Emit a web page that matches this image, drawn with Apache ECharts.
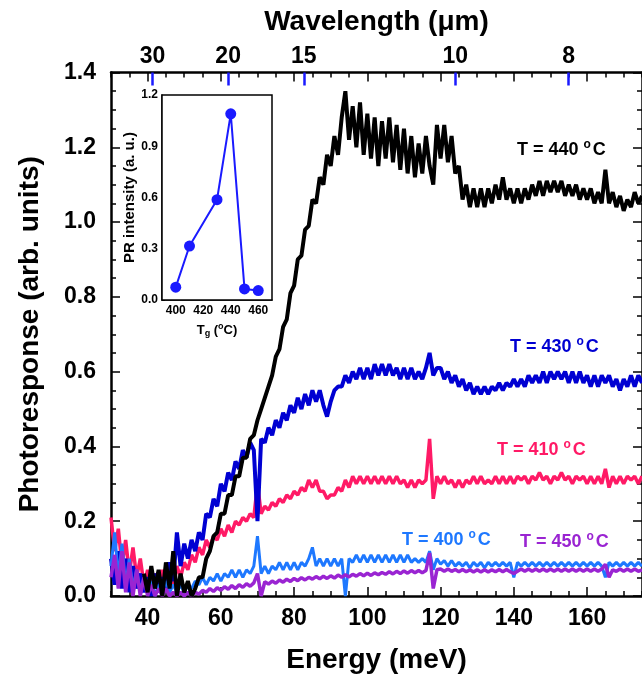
<!DOCTYPE html>
<html>
<head>
<meta charset="utf-8">
<script src="https://cdn.jsdelivr.net/npm/echarts@6/dist/echarts.min.js"></script>
<style>
html,body{margin:0;padding:0;background:#fff;}
#chart{width:642px;height:679px;}
</style>
</head>
<body>
<div id="chart"></div>
<script>
// ---------------- DATA ----------------
const energy = [
 30,31,32,33,34,35,36,37,38,39,
 40,41,42,43,44,45,46,47,48,49,
 50,51,52,53,54,55,56,57,58,59,
 60,61,62,63,64,65,66,67,68,69,
 70,71,72,73,74,75,76,77,78,79,
 80,81,82,83,84,85,86,87,88,89,
 90,91,92,93,94,95,96,97,98,99,
 100,101,102,103,104,105,106,107,108,109,
 110,111,112,113,114,115,116,117,118,119,
 120,121,122,123,124,125,126,127,128,129,
 130,131,132,133,134,135,136,137,138,139,
 140,141,142,143,144,145,146,147,148,149,
 150,151,152,153,154,155,156,157,158,159,
 160,161,162,163,164,165,166,167,168,169,
 170,171,172,173,174,175
];
// T = 440 C (black)
const pr440 = [
 null,null,null,null,null,null,null,null,null,0.06,
 0.01,0.08,0.02,0.07,0.0,0.09,0.02,0.12,0.0,0.06,
 0.01,0.04,0.0,0.02,0.05,0.05,0.1,0.12,0.16,0.17,
 0.22,0.22,0.27,0.27,0.32,0.32,0.37,0.37,0.42,0.43,
 0.47,0.5,0.53,0.56,0.59,0.64,0.66,0.72,0.74,0.81,
 0.83,0.9,0.91,0.98,0.99,1.06,1.05,1.12,1.1,1.18,
 1.15,1.23,1.18,1.28,1.35,1.22,1.31,1.2,1.32,1.18,
 1.29,1.17,1.28,1.15,1.27,1.17,1.28,1.16,1.26,1.14,
 1.25,1.13,1.23,1.12,1.21,1.13,1.23,1.15,1.1,1.26,
 1.17,1.26,1.16,1.23,1.13,1.15,1.06,1.1,1.04,1.09,
 1.04,1.09,1.04,1.09,1.05,1.1,1.06,1.12,1.06,1.09,
 1.05,1.09,1.05,1.09,1.06,1.1,1.07,1.11,1.07,1.11,
 1.08,1.11,1.08,1.11,1.07,1.1,1.07,1.1,1.06,1.09,
 1.06,1.09,1.05,1.08,1.05,1.14,1.05,1.08,1.04,1.07,
 1.03,1.06,1.04,1.08,1.05,1.07
];
// T = 430 C (blue)
const pr430 = [
 0.1,0.03,0.12,0.02,0.1,0.01,0.08,0.02,0.06,0.01,
 0.05,0.0,0.06,0.01,0.05,0.02,0.09,0.04,0.17,0.08,
 0.14,0.1,0.15,0.12,0.17,0.15,0.22,0.21,0.26,0.24,
 0.3,0.28,0.33,0.31,0.36,0.34,0.39,0.37,0.41,0.39,
 0.2,0.42,0.41,0.45,0.43,0.47,0.45,0.49,0.47,0.51,
 0.49,0.53,0.5,0.54,0.51,0.55,0.52,0.55,0.51,0.48,
 0.52,0.55,0.56,0.56,0.59,0.57,0.6,0.58,0.61,0.58,
 0.61,0.58,0.62,0.59,0.62,0.59,0.62,0.59,0.61,0.58,
 0.61,0.58,0.61,0.58,0.6,0.58,0.61,0.65,0.59,0.61,
 0.61,0.58,0.6,0.57,0.59,0.56,0.58,0.55,0.57,0.54,
 0.56,0.54,0.56,0.54,0.56,0.55,0.57,0.55,0.57,0.56,
 0.58,0.56,0.58,0.56,0.59,0.57,0.59,0.57,0.6,0.57,
 0.6,0.58,0.6,0.58,0.6,0.57,0.6,0.57,0.6,0.57,
 0.59,0.56,0.59,0.56,0.59,0.57,0.59,0.56,0.58,0.55,
 0.58,0.56,0.59,0.56,0.59,0.57
];
// T = 410 C (pink)
const pr410 = [
 0.21,0.12,0.18,0.08,0.15,0.06,0.13,0.05,0.1,0.03,
 0.07,0.02,0.06,0.03,0.07,0.02,0.06,0.03,0.08,0.05,
 0.09,0.07,0.11,0.09,0.13,0.11,0.15,0.13,0.16,0.15,
 0.18,0.16,0.19,0.17,0.2,0.19,0.21,0.2,0.22,0.21,
 0.3,0.22,0.24,0.23,0.25,0.24,0.26,0.25,0.27,0.26,
 0.28,0.27,0.29,0.28,0.31,0.29,0.31,0.28,0.28,0.26,
 0.27,0.27,0.29,0.28,0.31,0.29,0.32,0.3,0.32,0.3,
 0.32,0.3,0.32,0.3,0.32,0.3,0.32,0.3,0.32,0.3,
 0.31,0.29,0.31,0.29,0.31,0.3,0.31,0.42,0.26,0.32,
 0.3,0.32,0.3,0.31,0.29,0.31,0.29,0.31,0.3,0.32,
 0.3,0.32,0.3,0.31,0.3,0.32,0.3,0.32,0.3,0.32,
 0.3,0.32,0.31,0.32,0.3,0.32,0.31,0.33,0.31,0.32,
 0.3,0.32,0.31,0.33,0.31,0.32,0.3,0.32,0.31,0.32,
 0.3,0.32,0.3,0.32,0.3,0.34,0.29,0.32,0.3,0.32,
 0.3,0.32,0.31,0.32,0.3,0.32
];
// T = 400 C (light blue)
const pr400 = [
 0.08,0.17,0.05,0.14,0.03,0.1,0.02,0.07,0.01,0.05,
 0.01,0.04,0.0,0.03,0.01,0.04,0.01,0.03,0.01,0.03,
 0.01,0.03,0.02,0.04,0.03,0.05,0.03,0.05,0.04,0.06,
 0.04,0.06,0.05,0.07,0.05,0.07,0.05,0.07,0.06,0.08,
 0.16,0.06,0.08,0.06,0.08,0.07,0.09,0.07,0.09,0.07,
 0.09,0.07,0.09,0.08,0.1,0.13,0.08,0.1,0.08,0.1,
 0.08,0.1,0.08,0.1,0.0,0.1,0.09,0.11,0.09,0.11,
 0.09,0.11,0.09,0.11,0.09,0.11,0.09,0.11,0.09,0.11,
 0.09,0.11,0.09,0.1,0.09,0.1,0.09,0.12,0.07,0.1,
 0.085,0.095,0.08,0.095,0.08,0.09,0.08,0.09,0.075,0.09,
 0.08,0.09,0.075,0.09,0.08,0.09,0.08,0.09,0.08,0.09,
 0.05,0.09,0.08,0.09,0.08,0.09,0.08,0.09,0.08,0.09,
 0.08,0.09,0.08,0.09,0.08,0.09,0.08,0.09,0.08,0.09,
 0.08,0.09,0.08,0.09,0.08,0.05,0.09,0.08,0.09,0.08,
 0.09,0.08,0.09,0.08,0.09,0.08
];
// T = 450 C (purple)
const pr450 = [
 0.05,0.11,0.02,0.12,0.01,0.09,0.0,0.07,0.0,0.05,
 0.0,0.03,0.0,0.02,0.0,0.02,0.0,0.01,0.0,0.01,
 0.0,0.01,0.0,0.01,0.005,0.015,0.01,0.02,0.012,0.022,
 0.015,0.025,0.018,0.028,0.02,0.03,0.023,0.033,0.026,0.035,
 0.06,0.0,0.038,0.032,0.04,0.034,0.043,0.037,0.045,0.039,
 0.047,0.041,0.049,0.043,0.05,0.045,0.052,0.046,0.053,0.047,
 0.054,0.048,0.056,0.05,0.057,0.051,0.058,0.053,0.06,0.054,
 0.061,0.055,0.062,0.057,0.063,0.058,0.065,0.059,0.066,0.06,
 0.067,0.061,0.068,0.062,0.068,0.062,0.068,0.115,0.02,0.07,
 0.072,0.066,0.072,0.066,0.071,0.065,0.071,0.065,0.07,0.064,
 0.07,0.064,0.07,0.064,0.07,0.065,0.071,0.065,0.071,0.065,
 0.06,0.066,0.072,0.066,0.072,0.066,0.072,0.066,0.072,0.066,
 0.072,0.066,0.072,0.066,0.072,0.066,0.072,0.066,0.072,0.066,
 0.072,0.066,0.072,0.066,0.072,0.085,0.05,0.07,0.066,0.072,
 0.066,0.072,0.066,0.072,0.066,0.07
];
// Inset: PR intensity vs growth temperature
const insetTg = [400, 410, 430, 440, 450, 460];
const insetPR = [0.075, 0.316, 0.587, 1.09, 0.065, 0.055];

// Tick labels
const energyLabels = [40, 60, 80, 100, 120, 140, 160];
const wavelengthLabels = [30, 20, 15, 10, 8];           // micrometres
const insetTgLabels = [400, 420, 440, 460];
const insetTgTicks = [400, 410, 420, 430, 440, 450, 460];

// ---------------- CHART ----------------
const FONT = 'Liberation Sans, Arial, sans-serif';
const hc = 1239.84; // meV * um
const wavelengthEnergies = wavelengthLabels.map(w => hc / w);

function pairs(vals) {
  const out = [];
  for (let i = 0; i < energy.length; i++) if (vals[i] !== null) out.push([energy[i], vals[i]]);
  return out;
}

const C440 = '#000000', C430 = '#0000d2', C410 = '#ff1a66', C400 = '#1e78ff', C450 = '#9a24d2', CIN = '#1a1aff';

const chart = echarts.init(document.getElementById('chart'), null, {renderer: 'canvas'});

function lineSeries(name, vals, color, width, z) {
  return {
    name, type: 'line', xAxisIndex: 0, yAxisIndex: 0, data: pairs(vals),
    showSymbol: false, symbol: 'none', sampling: null, smooth: false,
    lineStyle: {color, width, join: 'bevel'}, itemStyle: {color}, z, silent: true
  };
}

function tLabel(txt, color, x, y) {
  return {
    type: 'text', x, y, z: 100,
    style: {
      text: txt + ' {s|o}C', verticalAlign: 'middle',
      fontSize: 18, fontWeight: 'bold', fontFamily: FONT, fill: color,
      rich: { s: { fontSize: 12, fontWeight: 'bold', fontFamily: FONT, fill: color, verticalAlign: 'top', padding: [0, 2, 10, 0] } }
    }
  };
}

const option = {
  animation: false,
  backgroundColor: '#fff',
  textStyle: {fontFamily: FONT},
  grid: [
    {left: 111, top: 72.5, width: 533, height: 523.5},
    {left: 162, top: 95, width: 110, height: 205, show: true, borderColor: '#000', borderWidth: 1.5, backgroundColor: '#fff', z: 5}
  ],
  xAxis: [
    { // bottom major + labels
      gridIndex: 0, type: 'value', position: 'bottom', min: 30, max: 175,
      axisLine: {show: true, onZero: false, lineStyle: {color: '#000', width: 2.5}},
      axisTick: {show: true, inside: true, length: 9, customValues: energyLabels, lineStyle: {color: '#000', width: 1.5}},
      axisLabel: {customValues: energyLabels, fontSize: 23, fontWeight: 'bold', color: '#000', margin: 11, fontFamily: FONT},
      splitLine: {show: false},
      name: 'Energy (meV)', nameLocation: 'middle', nameGap: 50,
      nameTextStyle: {fontSize: 28, fontWeight: 'bold', color: '#000', fontFamily: FONT}
    },
    { // bottom minor ticks
      gridIndex: 0, type: 'value', position: 'bottom', min: 30, max: 175, interval: 5,
      axisLine: {show: false, onZero: false},
      axisTick: {show: true, inside: true, length: 5, lineStyle: {color: '#000', width: 1.5}},
      axisLabel: {show: false}, splitLine: {show: false}
    },
    { // top major ticks + line
      gridIndex: 0, type: 'value', position: 'top', min: 30, max: 175,
      axisLine: {show: true, onZero: false, lineStyle: {color: '#000', width: 2.5}},
      axisTick: {show: true, inside: true, length: 9, customValues: energyLabels, lineStyle: {color: '#000', width: 1.5}},
      axisLabel: {show: false}, splitLine: {show: false}
    },
    { // top minor ticks
      gridIndex: 0, type: 'value', position: 'top', min: 30, max: 175, interval: 5,
      axisLine: {show: false, onZero: false},
      axisTick: {show: true, inside: true, length: 5, lineStyle: {color: '#000', width: 1.5}},
      axisLabel: {show: false}, splitLine: {show: false}
    },
    { // top wavelength axis
      gridIndex: 0, type: 'value', position: 'top', min: 30, max: 175,
      axisLine: {show: false, onZero: false},
      axisTick: {show: true, inside: true, length: 13, customValues: wavelengthEnergies, lineStyle: {color: CIN, width: 2.5}},
      axisLabel: {
        customValues: wavelengthEnergies, fontSize: 23, fontWeight: 'bold', color: '#000', margin: 4, fontFamily: FONT,
        formatter: function (v) {
          let best = 0;
          for (let i = 1; i < wavelengthEnergies.length; i++)
            if (Math.abs(wavelengthEnergies[i] - v) < Math.abs(wavelengthEnergies[best] - v)) best = i;
          return String(wavelengthLabels[best]);
        }
      },
      splitLine: {show: false},
      name: 'Wavelength (μm)', nameLocation: 'middle', nameGap: 36,
      nameTextStyle: {fontSize: 28, fontWeight: 'bold', color: '#000', fontFamily: FONT}
    },
    { // inset x
      gridIndex: 1, type: 'value', position: 'bottom', min: 390, max: 470,
      axisLine: {show: true, onZero: false, lineStyle: {color: '#000', width: 1.5}},
      axisTick: {show: true, inside: true, length: 3, customValues: insetTgTicks, lineStyle: {color: '#000'}},
      axisLabel: {customValues: insetTgLabels, fontSize: 12, fontWeight: 'bold', color: '#000', margin: 5, fontFamily: FONT},
      splitLine: {show: false}
    }
  ],
  yAxis: [
    {
      gridIndex: 0, type: 'value', position: 'left', min: 0, max: 1.4, interval: 0.2,
      axisLine: {show: true, onZero: false, lineStyle: {color: '#000', width: 2.5}},
      axisTick: {show: true, inside: true, length: 9, lineStyle: {color: '#000', width: 1.5}},
      minorTick: {show: true, splitNumber: 4, length: 5, lineStyle: {color: '#000', width: 1.5}},
      axisLabel: {fontSize: 23, fontWeight: 'bold', color: '#000', margin: 15, fontFamily: FONT, formatter: v => v.toFixed(1)},
      splitLine: {show: false},
      name: 'Photoresponse (arb. units)', nameLocation: 'middle', nameGap: 67,
      nameTextStyle: {fontSize: 28, fontWeight: 'bold', color: '#000', fontFamily: FONT}
    },
    {
      gridIndex: 0, type: 'value', position: 'right', min: 0, max: 1.4, interval: 0.2,
      axisLine: {show: true, onZero: false, lineStyle: {color: '#000', width: 2.5}},
      axisTick: {show: true, inside: true, length: 9, lineStyle: {color: '#000', width: 1.5}},
      minorTick: {show: true, splitNumber: 4, length: 5, lineStyle: {color: '#000', width: 1.5}},
      axisLabel: {show: false}, splitLine: {show: false}
    },
    {
      gridIndex: 1, type: 'value', position: 'left', min: 0, max: 1.2, interval: 0.3,
      axisLine: {show: true, onZero: false, lineStyle: {color: '#000', width: 1.5}},
      axisTick: {show: true, inside: true, length: 3, lineStyle: {color: '#000'}},
      axisLabel: {fontSize: 12, fontWeight: 'bold', color: '#000', margin: 4, fontFamily: FONT, formatter: v => v.toFixed(1)},
      splitLine: {show: false},
      name: 'PR intensity (a. u.)', nameLocation: 'middle', nameGap: 25,
      nameTextStyle: {fontSize: 15, fontWeight: 'bold', color: '#000', fontFamily: FONT}
    }
  ],
  series: [
    lineSeries('T = 410', pr410, C410, 3.5, 2),
    lineSeries('T = 430', pr430, C430, 4, 3),
    lineSeries('T = 400', pr400, C400, 3, 4),
    lineSeries('T = 450', pr450, C450, 3.5, 5),
    lineSeries('T = 440', pr440, C440, 4, 6),
    {
      name: 'inset', type: 'line', xAxisIndex: 5, yAxisIndex: 2,
      data: insetTg.map((t, i) => [t, insetPR[i]]),
      symbol: 'circle', symbolSize: 11, showSymbol: true,
      lineStyle: {color: CIN, width: 2}, itemStyle: {color: CIN}, z: 10, silent: true
    }
  ],
  graphic: [
    tLabel('T = 440', C440, 517, 150),
    tLabel('T = 430', C430, 510, 347),
    tLabel('T = 410', C410, 497, 450),
    tLabel('T = 400', C400, 402, 540),
    tLabel('T = 450', C450, 520, 542),
    {
      type: 'text', x: 217, y: 330, z: 100,
      style: {
        text: 'T{g|g} ({s|o}C)', align: 'center', verticalAlign: 'middle',
        fontSize: 13, fontWeight: 'bold', fontFamily: FONT, fill: '#000',
        rich: {
          g: {fontSize: 9, fontWeight: 'bold', fontFamily: FONT, fill: '#000', verticalAlign: 'bottom', padding: [6, 0, 0, 0]},
          s: {fontSize: 9, fontWeight: 'bold', fontFamily: FONT, fill: '#000', verticalAlign: 'top', padding: [0, 0, 7, 0]}
        }
      }
    }
  ]
};
chart.setOption(option);
</script>
</body>
</html>
